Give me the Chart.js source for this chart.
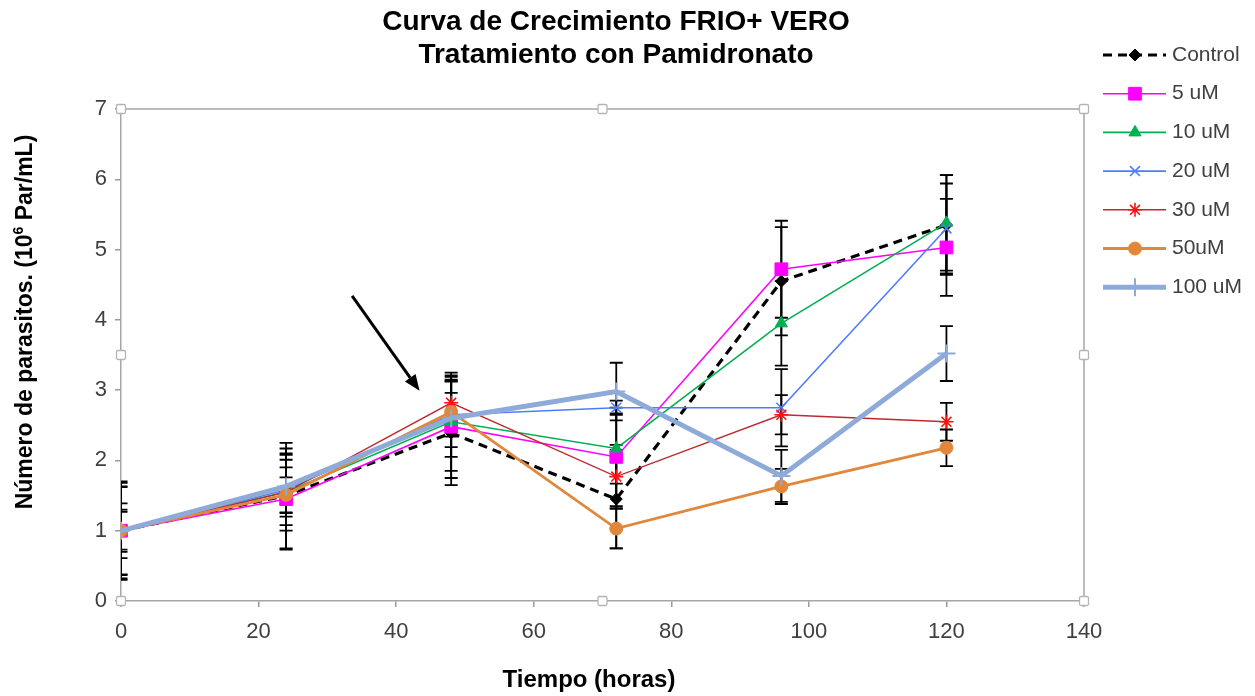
<!DOCTYPE html>
<html>
<head>
<meta charset="utf-8">
<script src="https://cdn.jsdelivr.net/npm/chart.js@4.4.1/dist/chart.umd.min.js"></script>
<style>
  html, body { margin: 0; padding: 0; background: #ffffff; }
  #wrap { width: 1255px; height: 696px; }
</style>
</head>
<body>
<div id="wrap"><canvas id="growth" width="1255" height="696"></canvas></div>
<script>
// Sampling times (hours)
const hours = [0, 24, 48, 72, 96, 120];

// Mean parasite counts (10^6 Par/mL) per treatment
const control = [1.00, 1.50, 2.39, 1.45, 4.55, 5.35];
const uM5     = [1.00, 1.45, 2.48, 2.05, 4.72, 5.03];
const uM10    = [1.00, 1.55, 2.55, 2.17, 3.95, 5.38];
const uM20    = [1.00, 1.58, 2.65, 2.75, 2.75, 5.30];
const uM30    = [1.00, 1.55, 2.82, 1.77, 2.65, 2.55];
const uM50    = [1.00, 1.51, 2.69, 1.03, 1.63, 2.18];
const uM100   = [1.00, 1.63, 2.60, 2.98, 1.78, 3.52];

// Standard deviation for each mean
const errControl = [0.70, 0.75, 0.74, 0.70, 0.77, 0.71];
const err5       = [0.68, 0.72, 0.73, 0.70, 0.69, 0.69];
const err10      = [0.62, 0.55, 0.70, 0.50, 0.60, 0.68];
const err20      = [0.39, 0.50, 0.31, 0.10, 0.55, 0.64];
const err30      = [0.27, 0.35, 0.30, 0.45, 0.28, 0.27];
const err50      = [0.63, 0.25, 0.50, 0.28, 0.25, 0.26];
const err100     = [0.30, 0.38, 0.55, 0.41, 0.37, 0.39];

// Legend labels
const seriesNames = ['Control', '5 uM', '10 uM', '20 uM', '30 uM', '50uM', '100 uM'];

// Axis ticks
const xTicks = [0, 20, 40, 60, 80, 100, 120, 140];
const yTicks = [0, 1, 2, 3, 4, 5, 6, 7];

// Annotation arrow pointing at the 48 h treatment point (data coordinates)
const arrowFrom = { x: 33.6, y: 4.34 };
const arrowTo   = { x: 43.4, y: 2.99 };

const FONT = "'Liberation Sans', Arial, sans-serif";

const values = [control, uM5, uM10, uM20, uM30, uM50, uM100];
const errors = [errControl, err5, err10, err20, err30, err50, err100];

const styles = [
  { line: '#000000', fill: '#000000', width: 3.2, dash: [9, 6], point: 'rectRot', r: 6, pbw: 1 },
  { line: '#ff00ff', fill: '#ff00ff', width: 1.6, dash: [], point: 'rect', r: 9, pbw: 1 },
  { line: '#00b050', fill: '#00b050', width: 1.6, dash: [], point: 'triangle', r: 7, pbw: 1 },
  { line: '#4f7cff', fill: '#4f7cff', width: 1.6, dash: [], point: 'crossRot', r: 7, pbw: 1.6 },
  { line: '#c0282d', fill: '#ff1010', width: 1.4, dash: [], point: 'star', r: 7, pbw: 1.6 },
  { line: '#e0873c', fill: '#e0873c', width: 2.8, dash: [], point: 'circle', r: 6.5, pbw: 1 },
  { line: '#8eaad8', fill: '#8eaad8', width: 5, dash: [], point: 'cross', r: 9, pbw: 2 }
];

const datasets = values.map((vals, i) => ({
  label: seriesNames[i],
  data: hours.map((h, j) => ({ x: h, y: vals[j] })),
  borderColor: styles[i].line,
  backgroundColor: styles[i].fill,
  borderWidth: styles[i].width,
  borderDash: styles[i].dash,
  pointStyle: styles[i].point,
  pointRadius: styles[i].r,
  pointBorderWidth: styles[i].pbw,
  pointBackgroundColor: styles[i].fill,
  pointBorderColor: styles[i].fill,
  tension: 0,
  fill: false,
  order: values.length - i
}));

function drawHandle(ctx, x, y) {
  ctx.save();
  ctx.fillStyle = '#ffffff';
  ctx.strokeStyle = '#b4b4b4';
  ctx.lineWidth = 1.3;
  ctx.beginPath();
  if (ctx.roundRect) ctx.roundRect(x - 4.5, y - 4.5, 9, 9, 1.5); else ctx.rect(x - 4.5, y - 4.5, 9, 9);
  ctx.fill();
  ctx.stroke();
  ctx.restore();
}

const decor = {
  id: 'decor',
  beforeDatasetsDraw(chart) {
    const { ctx, chartArea: a, scales: { x, y } } = chart;
    // plot-area frame (top and right sides)
    ctx.save();
    ctx.strokeStyle = '#a6a6a6';
    ctx.lineWidth = 1.5;
    ctx.beginPath();
    ctx.moveTo(a.left, a.top);
    ctx.lineTo(a.right, a.top);
    ctx.lineTo(a.right, a.bottom);
    ctx.stroke();
    ctx.restore();

    // error bars
    ctx.save();
    ctx.beginPath();
    ctx.rect(a.left, 0, a.right - a.left, chart.height);
    ctx.clip();
    ctx.strokeStyle = '#000000';
    ctx.lineWidth = 1.8;
    const cap = 6.5;
    values.forEach((vals, i) => {
      hours.forEach((h, j) => {
        const e = errors[i][j];
        if (!e) return;
        const px = x.getPixelForValue(h);
        const top = y.getPixelForValue(vals[j] + e);
        const bot = y.getPixelForValue(vals[j] - e);
        ctx.beginPath();
        ctx.moveTo(px, top); ctx.lineTo(px, bot);
        ctx.moveTo(px - cap, top); ctx.lineTo(px + cap, top);
        ctx.moveTo(px - cap, bot); ctx.lineTo(px + cap, bot);
        ctx.stroke();
      });
    });
    ctx.restore();
  },
  afterDraw(chart) {
    const { ctx, chartArea: a, scales: { x, y } } = chart;

    // selection handles on the plot area
    const mx = (a.left + a.right) / 2, my = (a.top + a.bottom) / 2;
    [[a.left, a.top], [mx, a.top], [a.right, a.top], [a.left, my], [a.right, my],
     [a.left, a.bottom], [mx, a.bottom], [a.right, a.bottom]].forEach(p => drawHandle(ctx, p[0], p[1]));

    // arrow
    const x0 = x.getPixelForValue(arrowFrom.x), y0 = y.getPixelForValue(arrowFrom.y);
    const x1 = x.getPixelForValue(arrowTo.x), y1 = y.getPixelForValue(arrowTo.y);
    const ang = Math.atan2(y1 - y0, x1 - x0);
    const head = 16, hw = 6.5;
    const bx = x1 - head * Math.cos(ang), by = y1 - head * Math.sin(ang);
    ctx.save();
    ctx.strokeStyle = '#000000';
    ctx.fillStyle = '#000000';
    ctx.lineWidth = 3;
    ctx.beginPath();
    ctx.moveTo(x0, y0);
    ctx.lineTo(bx, by);
    ctx.stroke();
    ctx.beginPath();
    ctx.moveTo(x1, y1);
    ctx.lineTo(bx + hw * Math.sin(ang), by - hw * Math.cos(ang));
    ctx.lineTo(bx - hw * Math.sin(ang), by + hw * Math.cos(ang));
    ctx.closePath();
    ctx.fill();
    ctx.restore();

    // title
    ctx.save();
    ctx.fillStyle = '#000000';
    ctx.textAlign = 'center';
    ctx.textBaseline = 'alphabetic';
    ctx.font = 'bold 28px ' + FONT;
    ctx.fillText('Curva de Crecimiento FRIO+ VERO', 616, 30);
    ctx.fillText('Tratamiento con Pamidronato', 616, 63);

    // x-axis title
    ctx.font = 'bold 24px ' + FONT;
    ctx.textBaseline = 'middle';
    ctx.fillText('Tiempo (horas)', 589, 680);

    // y-axis title with superscript exponent
    ctx.translate(26, 322);
    ctx.rotate(-Math.PI / 2);
    const partA = 'Número de parasitos. (10';
    const partS = '6';
    const partB = ' Par/mL)';
    ctx.font = 'bold 23px ' + FONT;
    const wa = ctx.measureText(partA).width, wb = ctx.measureText(partB).width;
    ctx.font = 'bold 14px ' + FONT;
    const ws = ctx.measureText(partS).width;
    let sx = -(wa + ws + wb) / 2;
    ctx.textAlign = 'left';
    ctx.font = 'bold 23px ' + FONT;
    ctx.fillText(partA, sx, 0);
    sx += wa;
    ctx.font = 'bold 14px ' + FONT;
    ctx.fillText(partS, sx, -7);
    sx += ws;
    ctx.font = 'bold 23px ' + FONT;
    ctx.fillText(partB, sx, 0);
    ctx.restore();

    // legend
    ctx.save();
    chart.data.datasets.forEach((d, i) => {
      const ly = 55 + i * 38.7;
      ctx.strokeStyle = d.borderColor;
      ctx.lineWidth = d.borderWidth;
      ctx.setLineDash(d.borderDash || []);
      ctx.beginPath();
      ctx.moveTo(1103, ly);
      ctx.lineTo(1166, ly);
      ctx.stroke();
      ctx.setLineDash([]);
      ctx.fillStyle = d.pointBackgroundColor;
      ctx.strokeStyle = d.pointBorderColor;
      ctx.lineWidth = d.pointBorderWidth;
      Chart.helpers.drawPoint(ctx, {
        pointStyle: d.pointStyle,
        radius: d.pointRadius,
        borderWidth: d.pointBorderWidth,
        rotation: 0
      }, 1135, ly);
      ctx.fillStyle = '#404040';
      ctx.font = '21px ' + FONT;
      ctx.textAlign = 'left';
      ctx.textBaseline = 'middle';
      ctx.fillText(d.label, 1172, ly);
    });
    ctx.restore();
  }
};

new Chart(document.getElementById('growth'), {
  type: 'line',
  data: { datasets },
  options: {
    responsive: false,
    animation: false,
    devicePixelRatio: 1,
    layout: { padding: { top: 109, right: 171, left: 0, bottom: 0 } },
    plugins: {
      legend: { display: false },
      title: { display: false },
      tooltip: { enabled: false }
    },
    scales: {
      x: {
        type: 'linear',
        min: 0,
        max: 140,
        afterFit(s) { s.height = 95; },
        afterBuildTicks(s) { s.ticks = xTicks.map(v => ({ value: v })); },
        ticks: { color: '#404040', font: { size: 22, family: FONT }, padding: 12, maxRotation: 0 },
        grid: { drawOnChartArea: false, tickLength: 6, color: '#9a9a9a', tickColor: '#9a9a9a', lineWidth: 1.5 },
        border: { color: '#a6a6a6', width: 1.5 }
      },
      y: {
        type: 'linear',
        min: 0,
        max: 7,
        afterFit(s) { s.width = 121; },
        afterBuildTicks(s) { s.ticks = yTicks.map(v => ({ value: v })); },
        ticks: { color: '#404040', font: { size: 22, family: FONT }, padding: 8 },
        grid: { drawOnChartArea: false, tickLength: 6, color: '#9a9a9a', tickColor: '#9a9a9a', lineWidth: 1.5 },
        border: { color: '#a6a6a6', width: 1.5 }
      }
    }
  },
  plugins: [decor]
});
</script>
</body>
</html>
